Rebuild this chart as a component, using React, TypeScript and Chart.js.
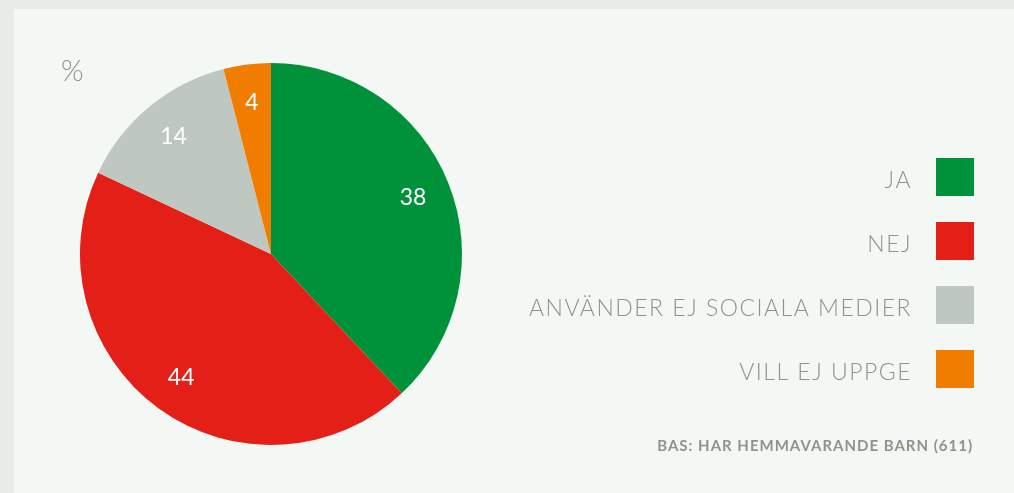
import React, { useEffect, useRef } from "react";
import { Chart, registerables } from "chart.js";

Chart.register(...registerables);

const categories = ["JA", "NEJ", "ANVÄNDER EJ SOCIALA MEDIER", "VILL EJ UPPGE"];
const values = [38, 44, 14, 4];
const colors = ["#00923a", "#e31f17", "#bfc8c0", "#f07c00"];
const unitLabel = "%";
const footnote = "BAS: HAR HEMMAVARANDE BARN (611)";

const TEXT_GRAY = "#8e9489";

const overlayPlugin = {
  id: "overlay",
  afterDraw(chart: any) {
    const ctx = chart.ctx;
    const meta = chart.getDatasetMeta(0);
    ctx.save();
    // slice value labels
    ctx.fillStyle = "#ffffff";
    ctx.font = "400 23px Lato";
    ctx.textAlign = "center";
    ctx.textBaseline = "middle";
    meta.data.forEach((arc: any, i: number) => {
      const p = arc.getProps(["x", "y", "startAngle", "endAngle", "outerRadius"], true);
      const mid = (p.startAngle + p.endAngle) / 2;
      const r = p.outerRadius * 0.8;
      ctx.fillText(String(values[i]), p.x + Math.cos(mid) * r, p.y + Math.sin(mid) * r);
    });
    // % label
    ctx.fillStyle = TEXT_GRAY;
    ctx.font = "300 29px Lato";
    ctx.textAlign = "left";
    ctx.textBaseline = "alphabetic";
    ctx.fillText(unitLabel, 61, 81);
    // legend
    const boxRight = 974;
    const box = 38;
    const top0 = 158;
    const gap = 64;
    categories.forEach((c, i) => {
      const y = top0 + i * gap;
      ctx.fillStyle = colors[i];
      ctx.fillRect(boxRight - box, y, box, box);
      ctx.fillStyle = TEXT_GRAY;
      ctx.font = "300 23px Lato";
      (ctx as any).letterSpacing = "1.5px";
      ctx.textAlign = "right";
      ctx.textBaseline = "alphabetic";
      ctx.fillText(c, 912, y + box / 2 + 11);
    });
    // footnote
    ctx.fillStyle = TEXT_GRAY;
    ctx.font = "700 15px Lato";
    (ctx as any).letterSpacing = "1px";
    ctx.textAlign = "right";
    ctx.fillText(footnote, 973, 451);
    ctx.restore();
  },
};

export default function App() {
  const ref = useRef<HTMLCanvasElement | null>(null);
  useEffect(() => {
    if (!ref.current) return;
    const chart = new Chart(ref.current, {
      type: "pie",
      data: {
        labels: categories,
        datasets: [
          {
            data: values,
            backgroundColor: colors,
            borderWidth: 0,
          },
        ],
      },
      options: {
        animation: false,
        responsive: false,
        maintainAspectRatio: false,
        layout: { padding: { top: 63, bottom: 48, left: 80, right: 552 } },
        plugins: {
          legend: { display: false },
          tooltip: { enabled: false },
        },
      },
      plugins: [overlayPlugin],
    });
    return () => chart.destroy();
  }, []);
  return (
    <div
      style={{
        position: "fixed",
        left: 0,
        top: 0,
        width: 1014,
        height: 493,
        background: "#e9ebe7",
      }}
    >
      <div
        style={{
          position: "absolute",
          left: 14,
          top: 9,
          right: 0,
          bottom: 0,
          background: "#f4f8f4",
        }}
      />
      <canvas
        ref={ref}
        width={1014}
        height={493}
        style={{ position: "absolute", left: 0, top: 0, width: 1014, height: 493 }}
      />
    </div>
  );
}
